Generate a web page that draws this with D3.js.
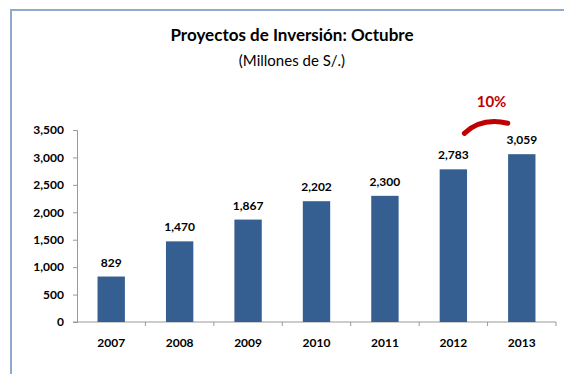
<!DOCTYPE html>
<html>
<head>
<meta charset="utf-8">
<script src="https://cdn.jsdelivr.net/npm/d3@7"></script>
<style>
  html, body { margin: 0; padding: 0; background: #fff; }
  svg { display: block; }
</style>
</head>
<body>
<svg id="chart" width="564" height="374"></svg>
<script>
// Data: investment projects, October of each year (millions of S/.)
const years = ["2007", "2008", "2009", "2010", "2011", "2012", "2013"];
const values = [829, 1470, 1867, 2202, 2300, 2783, 3059];
const yTicks = [0, 500, 1000, 1500, 2000, 2500, 3000, 3500];
const growthLabel = "10%";

const svg = d3.select("#chart");
const font = "Lato, 'Open Sans', sans-serif";

// Outer frame (top and left edges visible)
svg.append("path")
  .attr("d", "M11,380 L11,10 L570,10")
  .attr("fill", "none")
  .attr("stroke", "#8eabcf")
  .attr("stroke-width", 2);

// Title
svg.append("text")
  .attr("x", 292).attr("y", 41)
  .attr("text-anchor", "middle")
  .attr("font-family", font).attr("font-weight", "bold").attr("font-size", 17)
  .attr("fill", "#000")
  .text("Proyectos de Inversión: Octubre");
svg.append("text")
  .attr("x", 292).attr("y", 66)
  .attr("text-anchor", "middle")
  .attr("font-family", font).attr("font-size", 15)
  .attr("fill", "#000")
  .text("(Millones de S/.)");

// Scales
const x = d3.scaleBand().domain(years).range([77, 556]).paddingInner(0.6).paddingOuter(0.3);
const y = d3.scaleLinear().domain([0, 3500]).range([322, 130]);

// Y axis
const yAxis = svg.append("g").attr("transform", "translate(77,0)")
  .call(d3.axisLeft(y).tickValues(yTicks).tickSize(4).tickPadding(9).tickFormat(d3.format(",")));
// X axis with ticks at category boundaries
const xAxisG = svg.append("g").attr("transform", "translate(0,322)");
xAxisG.append("line")
  .attr("x1", 73).attr("x2", 556).attr("y1", 0).attr("y2", 0);
const edges = d3.range(years.length + 1).map(i => 77 + i * (556 - 77) / years.length);
xAxisG.selectAll(".xt").data(edges.slice(1)).join("line")
  .attr("class", "xt")
  .attr("x1", d => d).attr("x2", d => d).attr("y1", 0).attr("y2", 4);
xAxisG.selectAll(".xl").data(years).join("text")
  .attr("class", "xl")
  .attr("x", d => x(d) + x.bandwidth() / 2).attr("y", 25)
  .attr("text-anchor", "middle")
  .text(d => d);

[yAxis, xAxisG].forEach(g => {
  g.selectAll("path.domain, line").attr("stroke", "#999").attr("stroke-width", 1);
  g.selectAll("text")
    .attr("font-family", font).attr("font-weight", "bold").attr("font-size", 12)
    .attr("fill", "#000");
});

// Bars
svg.selectAll(".bar").data(values).join("rect")
  .attr("class", "bar")
  .attr("x", (d, i) => x(years[i]))
  .attr("y", d => y(d))
  .attr("width", x.bandwidth())
  .attr("height", d => y(0) - y(d))
  .attr("fill", "#365f91");

// Value labels
svg.selectAll(".vl").data(values).join("text")
  .attr("class", "vl")
  .attr("x", (d, i) => x(years[i]) + x.bandwidth() / 2)
  .attr("y", d => y(d) - 10)
  .attr("text-anchor", "middle")
  .attr("font-family", font).attr("font-weight", "bold").attr("font-size", 12)
  .attr("fill", "#000")
  .text(d => d3.format(",")(d));

// Growth arc between the last two bars
const xa = x(years[5]) + x.bandwidth() / 2;
const xb = x(years[6]) + x.bandwidth() / 2;
const ya = y(values[5]) - 36;
const yb = y(values[6]) - 31;
svg.append("path")
  .attr("d", `M${xa + 11},${ya} Q${xa + 28},${yb - 6} ${xb - 14},${yb}`)
  .attr("fill", "none")
  .attr("stroke", "#c00000")
  .attr("stroke-width", 5)
  .attr("stroke-linecap", "round");
svg.append("text")
  .attr("x", (xa + xb) / 2 + 4).attr("y", 107)
  .attr("text-anchor", "middle")
  .attr("font-family", font).attr("font-weight", "bold").attr("font-size", 15)
  .attr("fill", "#c00000")
  .text(growthLabel);
</script>
</body>
</html>
